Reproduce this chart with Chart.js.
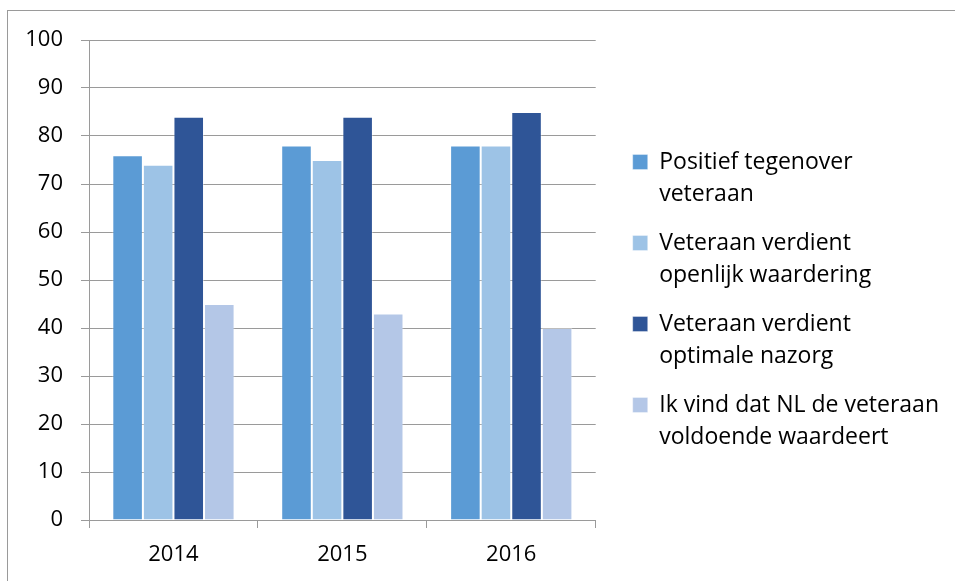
<!DOCTYPE html>
<html>
<head>
<meta charset="utf-8">
<script src="https://cdn.jsdelivr.net/npm/chart.js@4/dist/chart.umd.min.js"></script>
<style>
  html, body { margin: 0; padding: 0; background: #fff; }
  #wrap { position: relative; width: 955px; height: 581px; overflow: hidden; }
  #frame { position: absolute; left: 7px; top: 10px; width: 1000px; height: 700px;
           border-left: 1.5px solid #9a9a9a; border-top: 1.5px solid #9a9a9a; box-sizing: border-box; }
  canvas { position: absolute; left: 0; top: 0; }
</style>
</head>
<body>
<div id="wrap">
  <div id="frame"></div>
  <canvas id="c" width="955" height="581"></canvas>
</div>
<script>
const categories = ['2014', '2015', '2016'];
const seriesNames = [
  ['Positief tegenover', 'veteraan'],
  ['Veteraan verdient', 'openlijk waardering'],
  ['Veteraan verdient', 'optimale nazorg'],
  ['Ik vind dat NL de veteraan', 'voldoende waardeert']
];
const positief = [76, 78, 78];
const openlijkWaardering = [74, 75, 78];
const optimaleNazorg = [84, 84, 85];
const voldoendeWaardeert = [45, 43, 40];
const yTicks = [0, 10, 20, 30, 40, 50, 60, 70, 80, 90, 100];
const colors = ['#5B9BD5', '#9DC3E6', '#2F5597', '#B4C7E7'];

const seriesValues = [positief, openlijkWaardering, optimaleNazorg, voldoendeWaardeert];
const FONT = "'Open Sans', 'Noto Sans', sans-serif";

new Chart(document.getElementById('c'), {
  type: 'bar',
  data: {
    labels: categories,
    datasets: seriesValues.map((vals, i) => ({
      label: seriesNames[i],
      data: vals,
      backgroundColor: colors[i],
      borderColor: 'rgba(255,255,255,0.35)',
      borderWidth: 1,
      categoryPercentage: 0.724,
      barPercentage: 1.0
    }))
  },
  options: {
    responsive: false,
    animation: false,
    devicePixelRatio: 1,
    layout: { padding: { top: 40, bottom: 13, left: 0, right: 6 } },
    plugins: {
      tooltip: { enabled: false },
      legend: {
        position: 'right',
        align: 'center',
        maxWidth: 600,
        labels: {
          boxWidth: 15,
          boxHeight: 15,
          padding: 17,
          color: '#000',
          font: { family: FONT, size: 23, lineHeight: 32 / 23 }
        }
      }
    },
    scales: {
      x: {
        grid: { drawOnChartArea: false, drawTicks: true, tickLength: 8, color: '#9a9a9a', offset: true },
        border: { color: '#9a9a9a', width: 1 },
        ticks: { color: '#000', font: { family: FONT, size: 22 }, padding: 14 },
        afterFit: (s) => { s.height = 48; }
      },
      y: {
        min: 0, max: 100,
        afterBuildTicks: (s) => { s.ticks = yTicks.map(v => ({ value: v })); },
        grid: { color: '#9a9a9a', tickLength: 8, drawTicks: true },
        border: { color: '#9a9a9a', width: 1 },
        ticks: { color: '#000', font: { family: FONT, size: 22 }, padding: 18 },
        afterFit: (s) => { s.width = 89; }
      },
      y2: {
        position: 'right',
        display: true,
        grid: { display: false, drawTicks: false },
        border: { display: false },
        ticks: { display: false },
        afterFit: (s) => { s.width = 20; }
      }
    }
  }
});
</script>
</body>
</html>
